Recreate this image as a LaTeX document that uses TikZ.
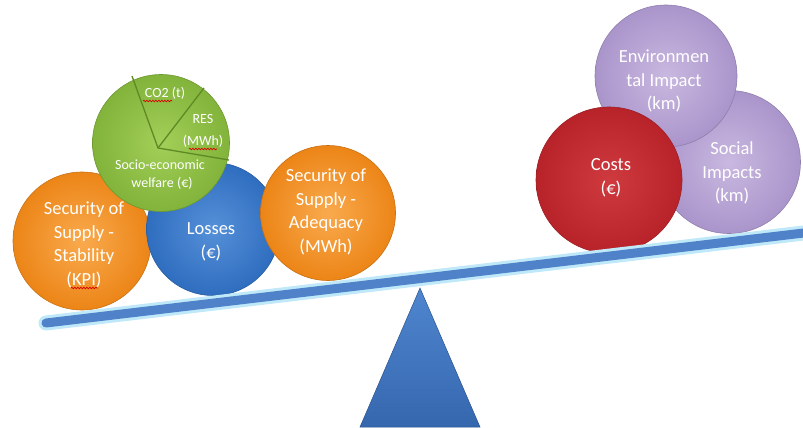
\documentclass[tikz,border=0pt]{standalone}
\usepackage{fontspec}
\setmainfont{Carlito}
\usetikzlibrary{decorations.pathmorphing}
\definecolor{orgA}{HTML}{F9AA4E}
\definecolor{orgB}{HTML}{EC8517}
\definecolor{bluA}{HTML}{5590D8}
\definecolor{bluB}{HTML}{2F6DBF}
\definecolor{grnA}{HTML}{A2CF58}
\definecolor{grnB}{HTML}{82B33A}
\definecolor{grnL}{HTML}{5E8A26}
\definecolor{redA}{HTML}{CF3A3F}
\definecolor{redB}{HTML}{B8232A}
\definecolor{purA}{HTML}{C9B8E0}
\definecolor{purB}{HTML}{AA95CB}
\definecolor{beamC}{HTML}{4F82C9}
\definecolor{glowC}{HTML}{BFE8F8}
\definecolor{triA}{HTML}{4F86CF}
\definecolor{triB}{HTML}{3567AE}
\tikzset{
  ball/.style={circle, inner sep=0pt},
  orangeball/.style={ball, inner color=orgA, outer color=orgB, draw=orgB!85!black, line width=0.6pt},
  blueball/.style={ball, inner color=bluA, outer color=bluB, draw=bluB!85!black, line width=0.6pt},
  greenball/.style={ball, inner color=grnA, outer color=grnB, draw=grnB!85!black, line width=0.6pt},
  redball/.style={ball, inner color=redA, outer color=redB, draw=redB!85!black, line width=0.6pt},
  purpleball/.style={ball, inner color=purA, outer color=purB, draw=purB!85!black, line width=0.6pt},
  big/.style={text=white, align=center, inner sep=0pt, font=\fontsize{18.5}{23.5}\selectfont},
  small/.style={text=white, font=\fontsize{14}{16}\selectfont, inner sep=0pt},
  pieline/.style={draw=grnL, line width=1.3pt},
  speller/.style={draw=red!85!black, line width=0.7pt, decorate,
    decoration={snake, amplitude=0.8pt, segment length=3pt}}
}
\begin{document}
\begin{tikzpicture}[x=1pt, y=-1pt]
\useasboundingbox (0,0) rectangle (803,428);
% fulcrum
\coordinate (apex) at (420,288);
\coordinate (bl) at (360,427);
\coordinate (br) at (480,427);
\shade[top color=triA, bottom color=triB, draw=triB!80!black, line width=0.5pt] (apex) -- (br) -- (bl) -- cycle;
% left balls
\node[orangeball, minimum size=138pt] (stab) at (82,241) {};
\node[big] (stabT) at (84,245) {Security of\\Supply -\\Stability\\(KPI)};
\node[blueball, minimum size=133pt] (loss) at (213,229) {};
\node[big] (lossT) at (211,242) {Losses\\(€)};
\node[orangeball, minimum size=135pt] (adeq) at (328,213) {};
\node[big] (adeqT) at (326,212) {Security of\\Supply -\\Adequacy\\(MWh)};
\node[greenball, minimum size=137pt] (pie) at (161,143) {};
\coordinate (pc) at (158,148);
\coordinate (p1) at (132,76);
\coordinate (p2) at (204,88);
\coordinate (p3) at (229,160);
\draw[pieline] (p1) -- (pc) -- (p3);
\draw[pieline] (pc) -- (p2);
\node[small] (co2) at (165,93) {CO2 (t)};
\node[small] (res) at (203,119) {RES};
\node[small] (mwh) at (203,141) {(MWh)};
\node[small] (soc) at (160,165) {Socio-economic};
\node[small] (wel) at (162,183) {welfare (€)};
% spelling marks
\coordinate (s1a) at (143,101); \coordinate (s1b) at (172,101);
\coordinate (s2a) at (189,149); \coordinate (s2b) at (217,149);
\coordinate (s3a) at (71,288); \coordinate (s3b) at (98,288);
\draw[speller] (s1a) -- (s1b);
\draw[speller] (s2a) -- (s2b);
\draw[speller] (s3a) -- (s3b);
% right balls
\node[purpleball, minimum size=143pt] (soci) at (729,162) {};
\node[big] (sociT) at (732,173) {Social\\Impacts\\(km)};
\node[purpleball, minimum size=142pt] (env) at (666,76) {};
\node[big] (envT) at (664,81) {Environmen\\tal Impact\\(km)};
\node[redball, minimum size=146pt] (cost) at (609,180) {};
\node[big] (costT) at (611,178) {Costs\\(€)};
% beam
\coordinate (bL) at (46,323);
\coordinate (bR) at (812,232);
\draw[glowC, line width=15pt, line cap=round] (bL) -- (bR);
\draw[beamC, line width=9pt, line cap=round] (bL) -- (bR);
\end{tikzpicture}
\end{document}
